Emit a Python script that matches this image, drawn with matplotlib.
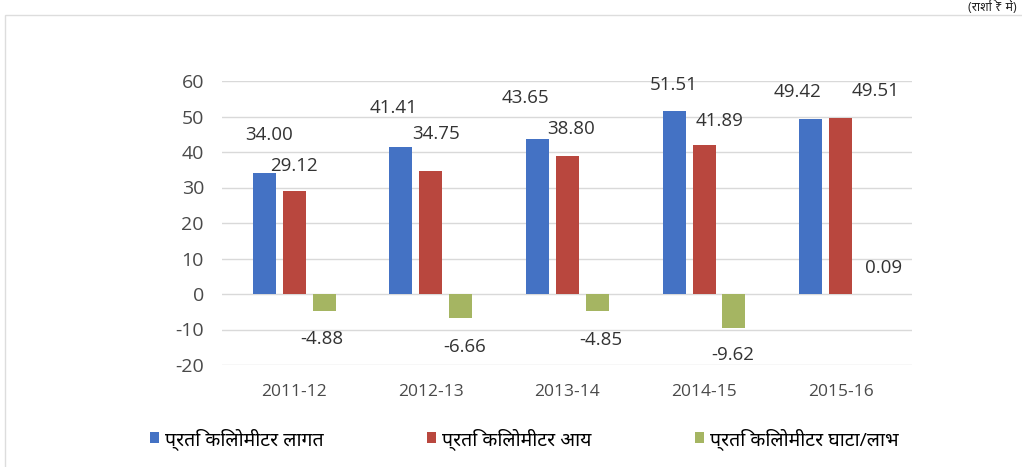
import matplotlib
matplotlib.use("Agg")
import matplotlib.pyplot as plt
import numpy as np
from matplotlib.patches import Rectangle

# chart data
years = ["2011-12", "2012-13", "2013-14", "2014-15", "2015-16"]
cost_per_km = [34.00, 41.41, 43.65, 51.51, 49.42]
income_per_km = [29.12, 34.75, 38.80, 41.89, 49.51]
loss_profit_per_km = [-4.88, -6.66, -4.85, -9.62, 0.09]
series_names = ["प्रति किलोमीटर लागत", "प्रति किलोमीटर आय", "प्रति किलोमीटर घाटा/लाभ"]

colors = ["#4472C4", "#B9473E", "#A5B562"]
# label offsets in pixels (dx, dy) from the bar end, as placed in the source
label_offsets = [
    [(5, 38), (-7, 39), (-12, 41), (0, 26), (-13, 27)],
    [(0, 25), (5, 37), (4, 27), (16, 24), (35, 27)],
    [(-2, -28), (4, -29), (3, -29), (-1, -27), (13, 26)],
]

plt.rcParams["font.family"] = ["Open Sans", "Noto Sans", "DejaVu Sans"]
plt.rcParams["axes.unicode_minus"] = False

fig = plt.figure(figsize=(10.22, 4.67), dpi=100)
ax = fig.add_axes([222 / 1022, 1 - 365 / 467, (912 - 222) / 1022, (365 - 81) / 467])

x = np.arange(len(years))
width = 0.168
pitch = 0.219
all_series = [cost_per_km, income_per_km, loss_profit_per_km]
for i, vals in enumerate(all_series):
    pos = x + (i - 1) * pitch
    bars = ax.bar(pos, vals, width, color=colors[i], label=series_names[i], zorder=3)
    for b, v, off in zip(bars, vals, label_offsets[i]):
        xc = b.get_x() + b.get_width() / 2
        ax.annotate(f"{v:.2f}", (xc, v), xytext=off, textcoords="offset pixels",
                    ha="center", va="center", fontsize=13.5, color="#333333")

ax.set_ylim(-20, 60)
ax.set_yticks(range(-20, 61, 10))
ax.set_xlim(-0.528, 4.522)
ax.set_xticks(x)
ax.set_xticklabels(years)
ax.grid(axis="y", color="#d9d9d9", linewidth=1, zorder=0)
for s in ax.spines.values():
    s.set_visible(False)
ax.tick_params(length=0, colors="#4a4a4a")
ax.tick_params(axis="x", labelsize=12.5, pad=14)
ax.tick_params(axis="y", labelsize=14, pad=13)

leg = fig.legend(loc="lower left", bbox_to_anchor=(132 / 1022, 0.0), ncol=3, frameon=False,
                 fontsize=14, handlelength=0.5, handleheight=0.5, handletextpad=0.3,
                 columnspacing=5.3)

# light frame around the chart
fig.add_artist(Rectangle((5 / 1022, -0.01), 1.02, 1 - 15 / 467 + 0.01, transform=fig.transFigure,
                         fill=False, edgecolor="#dddddd", linewidth=1))
fig.text(0.995, 0.999, "(राशि ₹ में)", ha="right", va="top", fontsize=9, color="#222222")

fig.savefig("out.png", dpi=100)
